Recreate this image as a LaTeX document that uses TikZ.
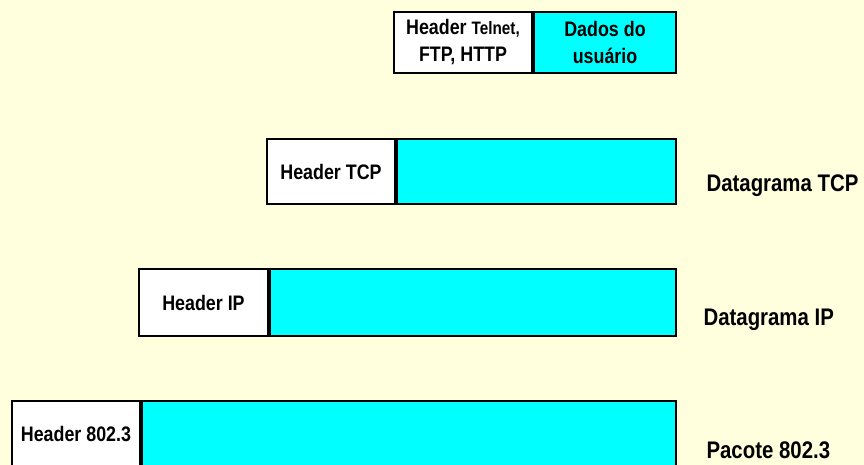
\documentclass[tikz,border=0pt]{standalone}
\usepackage{fontspec}
\setmainfont{Liberation Sans}[FakeStretch=0.85]
\usetikzlibrary{positioning}
\definecolor{fundo}{RGB}{255,255,221}
\definecolor{ciano}{RGB}{0,255,255}

\begin{document}
\begin{tikzpicture}[x=1pt,y=-1pt,
  caixa/.style={draw,line width=2pt,inner sep=0pt,anchor=north west,align=center,
    font=\bfseries\fontsize{21}{27}\selectfont},
  cab/.style={caixa,fill=white},
  dados/.style={caixa,fill=ciano},
  rotulo/.style={anchor=base west,font=\bfseries\fontsize{24}{28}\selectfont}]
\fill[fundo] (0,0) rectangle (864,465);
\clip (0,0) rectangle (864,465);
% aplicacao
\node[cab,minimum width=138,minimum height=61] (apph) at (393,11) {Header {\fontsize{18}{27}\selectfont Telnet,}\\FTP, HTTP};
\node[dados,minimum width=142,minimum height=61] (appd) at (apph.north east) {Dados do\\usuário};
% TCP
\node[cab,minimum width=128,minimum height=65] (tcph) at (266,138) {Header TCP};
\node[dados,minimum width=279,minimum height=65] (tcpd) at (tcph.north east) {};
\node[rotulo] (tcpl) at (703,192) {Datagrama TCP};
% IP
\node[cab,minimum width=129,minimum height=67] (iph) at (138,268) {Header IP};
\node[dados,minimum width=406,minimum height=67] (ipd) at (iph.north east) {};
\node[rotulo] (ipl) at (700,325) {Datagrama IP};
% 802.3
\node[cab,minimum width=128,minimum height=75,text depth=10pt] (ethh) at (11,400) {Header 802.3};
\node[dados,minimum width=534,minimum height=75] (ethd) at (ethh.north east) {};
\node[rotulo] (ethl) at (703,458) {Pacote 802.3};
\end{tikzpicture}
\end{document}
